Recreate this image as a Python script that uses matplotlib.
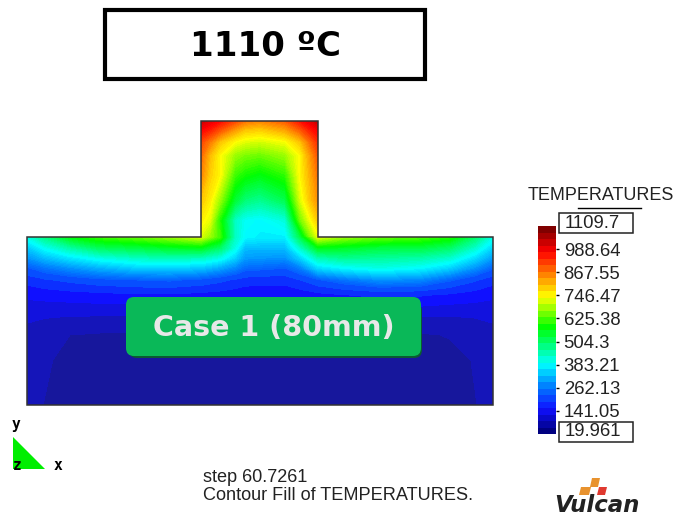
import numpy as np
import matplotlib
matplotlib.use('Agg')
import matplotlib.pyplot as plt
from matplotlib.colors import LinearSegmentedColormap, Normalize
from matplotlib.patches import Polygon, Rectangle, FancyBboxPatch

title_text = '1110 ºC'
case_text = 'Case 1 (80mm)'
bar_title = 'TEMPERATURES'
step_text = 'step 60.7261'
contour_text = 'Contour Fill of TEMPERATURES.'

temp_min = 19.961
temp_max = 1109.7
bar_ticks = [141.05, 262.13, 383.21, 504.3, 625.38, 746.47, 867.55, 988.64]
bar_tick_labels = ['141.05', '262.13', '383.21', '504.3', '625.38', '746.47', '867.55', '988.64']

# temperatures, px position of the columns and rows
stem_x = [201, 210, 220, 235, 245, 260, 285, 300, 310, 318]
stem_y = [121, 130, 142, 155, 175, 200, 220, 237]
stem_temp = [
    [1035, 1010, 980, 920, 880, 860, 900, 970, 1010, 1040],
    [985, 960, 910, 840, 800, 790, 830, 900, 960, 990],
    [920, 870, 800, 745, 725, 715, 740, 800, 885, 945],
    [890, 810, 750, 680, 660, 650, 680, 750, 840, 910],
    [860, 790, 750, 620, 590, 570, 610, 750, 820, 880],
    [800, 760, 680, 540, 490, 470, 520, 720, 800, 850],
    [760, 730, 600, 430, 390, 380, 410, 650, 740, 800],
    [720, 680, 620, 430, 380, 370, 370, 520, 660, 730],
]

body_x = [27, 45, 70, 100, 140, 170, 201, 220, 235, 245, 260, 285, 300, 318, 345, 380, 420, 450, 475, 493]
body_y = [237, 248, 258, 268, 280, 295, 315, 335, 360, 405]
body_temp = [
    [400, 480, 570, 620, 650, 680, 720, 620, 430, 380, 370, 370, 520, 730, 680, 650, 630, 600, 500, 400],
    [330, 390, 450, 510, 530, 550, 560, 500, 400, 320, 320, 320, 420, 560, 550, 530, 530, 500, 420, 340],
    [280, 320, 360, 400, 430, 440, 430, 400, 340, 290, 285, 280, 340, 440, 470, 460, 450, 420, 350, 290],
    [220, 250, 280, 310, 340, 340, 330, 300, 270, 240, 235, 225, 260, 350, 380, 400, 380, 340, 280, 230],
    [170, 185, 200, 215, 225, 230, 215, 200, 185, 175, 170, 170, 190, 220, 250, 280, 270, 230, 195, 170],
    [130, 135, 140, 145, 150, 150, 145, 140, 135, 130, 130, 130, 135, 145, 155, 165, 160, 150, 140, 130],
    [95, 92, 90, 90, 88, 88, 88, 86, 85, 85, 85, 85, 85, 88, 90, 92, 92, 90, 92, 95],
    [78, 68, 54, 50, 48, 48, 48, 47, 47, 47, 47, 47, 47, 47, 48, 48, 50, 56, 66, 78],
    [70, 58, 45, 40, 38, 38, 38, 36, 36, 36, 36, 36, 36, 36, 38, 38, 40, 44, 56, 70],
    [62, 53, 40, 34, 32, 32, 32, 30, 30, 30, 30, 30, 30, 30, 32, 32, 34, 40, 53, 62],
]

field_colors = [(0.0, '#18188c'), (0.11, '#1010ff'), (0.223, '#0080ff'), (0.333, '#00ffff'),
                (0.515, '#00ff00'), (0.667, '#ffff00'), (0.778, '#ff8000'), (0.889, '#ff0000'), (1.0, '#800000')]
bar_colors = [(0.0, '#000080')] + field_colors[1:]

# the cold bands stay visible in the picture, the warm part looks smooth
bar_levels = np.linspace(temp_min, temp_max, 33)
levels = np.concatenate([bar_levels[:6], np.linspace(bar_levels[6], temp_max, 90)])

field_cmap = LinearSegmentedColormap.from_list('field', field_colors, N=256)
bar_cmap = LinearSegmentedColormap.from_list('bar', bar_colors, N=32)

fig = plt.figure(figsize=(6.75, 5.15), dpi=100)
plt.rcParams['font.family'] = ['Liberation Sans', 'DejaVu Sans']
ax = fig.add_axes([0, 0, 1, 1])
ax.set_xlim(0, 675)
ax.set_ylim(515, 0)
ax.axis('off')

# T shaped part
outline = Polygon([(27, 237), (201, 237), (201, 121), (318, 121), (318, 237), (493, 237), (493, 405), (27, 405)],
                  closed=True, fill=False, edgecolor='#333333', linewidth=1.1, zorder=4)
ax.add_patch(outline)
norm = Normalize(temp_min, temp_max)
ax.contourf(stem_x, stem_y, stem_temp, levels=levels, cmap=field_cmap, norm=norm, extend='both', zorder=2)
ax.contourf(body_x, body_y, body_temp, levels=levels, cmap=field_cmap, norm=norm, extend='both', zorder=2)

# title box
ax.add_patch(Rectangle((104.5, 10), 320, 69, fill=False, edgecolor='black', linewidth=3, zorder=5))
ax.text(265, 46, title_text, family='DejaVu Sans', fontweight='bold', fontsize=24.5, ha='center', va='center', zorder=6)

# case label
ax.add_patch(FancyBboxPatch((129, 303), 293, 55, boxstyle='round,pad=0,rounding_size=8', mutation_scale=1,
                            facecolor='#0b5a33', edgecolor='none', zorder=5))
ax.add_patch(FancyBboxPatch((130, 301), 287, 51, boxstyle='round,pad=4,rounding_size=8', mutation_scale=1,
                            facecolor='#0ab858', edgecolor='none', zorder=6))
ax.text(273.5, 328, case_text, family='DejaVu Sans', fontweight='bold', fontsize=20.5, color='#e8e8e8',
        ha='center', va='center', zorder=7)

# colour bar
cax = fig.add_axes([538 / 675, 1 - 434 / 515, 18 / 675, 208 / 515])
cax.pcolormesh([0, 1], bar_levels, (bar_levels[:-1] + bar_levels[1:]).reshape(-1, 1) / 2, cmap=bar_cmap,
               vmin=temp_min, vmax=temp_max)
cax.set_ylim(temp_min, temp_max)
cax.set_xticks([])
cax.yaxis.tick_right()
cax.set_yticks(bar_ticks)
cax.set_yticklabels(bar_tick_labels)
cax.tick_params(axis='y', length=2.5, width=1, pad=3, labelsize=13.3, labelcolor='#222222')
for s in cax.spines.values():
    s.set_visible(False)

ax.text(600.5, 195, bar_title, fontsize=13, color='#222222', ha='center', va='center')
ax.plot([578, 641], [208, 208], color='black', linewidth=1)
for y0, y1, lab in [(213, 233, '1109.7'), (422, 442, '19.961')]:
    ax.add_patch(Rectangle((559, y0), 74, y1 - y0, fill=False, edgecolor='#222222', linewidth=1.1))
    ax.text(565, (y0 + y1) / 2, lab, fontsize=13.3, color='#222222', ha='left', va='center')

# triad
ax.add_patch(Polygon([(13, 437), (13, 469), (45, 469)], closed=True, facecolor='#00ee00', edgecolor='none'))
ax.text(16, 424, 'y', family='DejaVu Sans Mono', fontweight='bold', fontsize=10.5, ha='center', va='center')
ax.text(17, 466, 'z', family='DejaVu Sans Mono', fontweight='bold', fontsize=10.5, ha='center', va='center')
ax.text(58, 465, 'x', family='DejaVu Sans Mono', fontweight='bold', fontsize=10.5, ha='center', va='center')

ax.text(203, 477.5, step_text, fontsize=13.1, color='#222222', ha='left', va='center')
ax.text(203, 495, contour_text, fontsize=13.1, color='#222222', ha='left', va='center')

# logo
for pts, c in [([(590, 487), (598, 487), (600, 478), (592, 478)], '#e8922e'),
               ([(579, 495), (589, 495), (591, 487), (581, 487)], '#e8922e'),
               ([(597, 495), (605, 495), (607, 487), (599, 487)], '#e03a30')]:
    ax.add_patch(Polygon(pts, closed=True, facecolor=c, edgecolor='none'))
ax.text(597, 505, 'Vulcan', family='DejaVu Sans', fontweight='bold', fontstyle='italic', fontsize=16.5,
        color='#222222', ha='center', va='center')

fig.savefig('out.png', dpi=100)
